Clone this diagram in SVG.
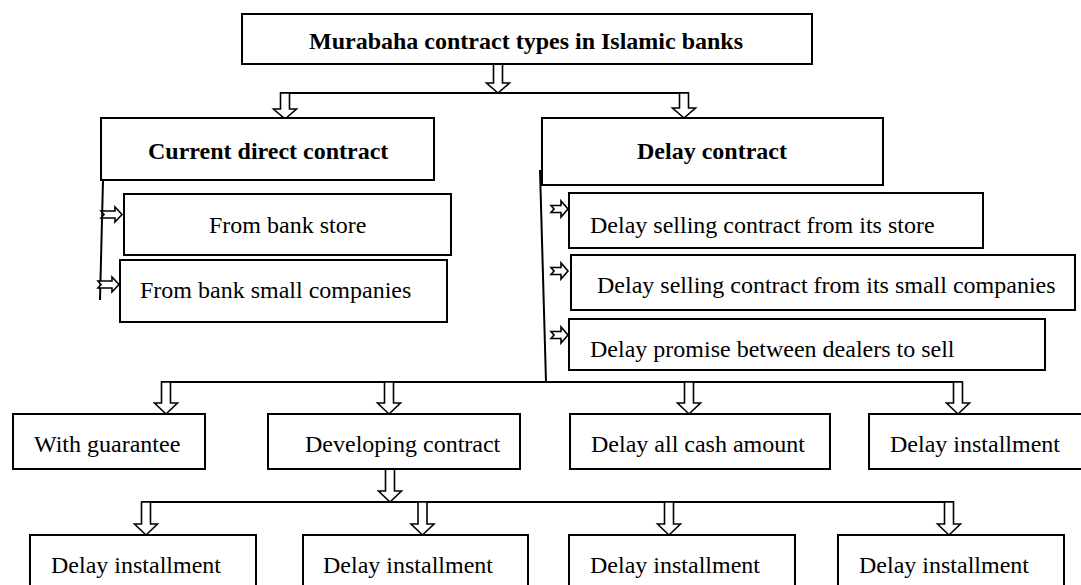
<svg xmlns="http://www.w3.org/2000/svg" width="1081" height="585" viewBox="0 0 1081 585">
<style>
.box{fill:#fff;stroke:#000;stroke-width:2}
.t{font-family:"Liberation Serif","Times New Roman",serif;font-size:24px;fill:#000}
.b{font-weight:bold}
.ln{fill:none;stroke:#000;stroke-width:2}
.ar{fill:#fff;stroke:#000;stroke-width:1.6;stroke-linejoin:miter}
</style>
<rect width="1081" height="585" fill="#fff"/>
<g id="connectors">
  <path class="ln" d="M280 93 H689"/>
  <path class="ln" d="M103 180 L100 300"/>
  <path class="ln" d="M540 170 L546 382"/>
  <path class="ln" d="M161 382 H962"/>
  <path class="ln" d="M142 502 H954"/>
  <path class="ar" d="M493.5 64 V83 H486.5 L498 93 L509.5 83 H502.5 V64 Z"/>
  <path class="ar" d="M280.5 93 V109 H273.5 L285 119 L296.5 109 H289.5 V93 Z"/>
  <path class="ar" d="M679.5 93 V108 H672.5 L684 118 L695.5 108 H688.5 V93 Z"/>
  <path class="ar" d="M101 211 H115 V207 L122 214.5 L115 222 V218 H101 L104 214.5 Z"/>
  <path class="ar" d="M98 281 H112 V277 L119 284.5 L112 292 V288 H98 L101 284.5 Z"/>
  <path class="ar" d="M551 205.5 H561 V201 L568 209 L561 217 V212.5 H551 L554 209 Z"/>
  <path class="ar" d="M551 267.5 H561 V263 L568 271 L561 279 V274.5 H551 L554 271 Z"/>
  <path class="ar" d="M551 331.5 H561 V327 L568 335 L561 343 V338.5 H551 L554 335 Z"/>
  <path class="ar" d="M161.5 382 V403 H154.5 L166 414 L177.5 403 H170.5 V382 Z"/>
  <path class="ar" d="M384.5 382 V403 H377.5 L389 414 L400.5 403 H393.5 V382 Z"/>
  <path class="ar" d="M684.5 382 V403 H677.5 L689 414 L700.5 403 H693.5 V382 Z"/>
  <path class="ar" d="M953.5 382 V403 H946.5 L958 414 L969.5 403 H962.5 V382 Z"/>
  <path class="ar" d="M385.5 469 V491 H378.5 L390 502 L401.5 491 H394.5 V469 Z"/>
  <path class="ar" d="M141.5 502 V524 H134.5 L146 535 L157.5 524 H150.5 V502 Z"/>
  <path class="ar" d="M418 502 V524 H411 L422.5 535 L434 524 H427 V502 Z"/>
  <path class="ar" d="M664.5 502 V524 H657.5 L669 535 L680.5 524 H673.5 V502 Z"/>
  <path class="ar" d="M944.5 502 V524 H937.5 L949 535 L960.5 524 H953.5 V502 Z"/>
</g>
<g id="n-title"><rect class="box" x="242" y="14" width="570" height="50"/><text class="t b" x="309" y="49">Murabaha contract types in Islamic banks</text></g>
<g id="n-current"><rect class="box" x="101" y="118" width="333" height="62"/><text class="t b" x="148" y="159">Current direct contract</text></g>
<g id="n-delay"><rect class="box" x="542" y="118" width="341" height="67"/><text class="t b" x="637" y="159">Delay contract</text></g>
<g id="n-store"><rect class="box" x="124" y="194" width="327" height="61"/><text class="t" x="209" y="233">From bank store</text></g>
<g id="n-small"><rect class="box" x="120" y="260" width="327" height="62"/><text class="t" x="140" y="298">From bank small companies</text></g>
<g id="n-dstore"><rect class="box" x="569" y="193" width="414" height="55"/><text class="t" x="590" y="233">Delay selling contract from its store</text></g>
<g id="n-dsmall"><rect class="box" x="571" y="255" width="504" height="55"/><text class="t" x="597" y="293">Delay selling contract from its small companies</text></g>
<g id="n-dpromise"><rect class="box" x="569" y="319" width="476" height="51"/><text class="t" x="590" y="357">Delay promise between dealers to sell</text></g>
<g id="n-guarantee"><rect class="box" x="13" y="414" width="192" height="55"/><text class="t" x="34" y="452">With guarantee</text></g>
<g id="n-developing"><rect class="box" x="268" y="414" width="252" height="55"/><text class="t" x="305" y="452">Developing contract</text></g>
<g id="n-cash"><rect class="box" x="570" y="414" width="260" height="55"/><text class="t" x="591" y="452">Delay all cash amount</text></g>
<g id="n-install"><rect class="box" x="869" y="414" width="216" height="55"/><text class="t" x="890" y="452">Delay installment</text></g>
<g id="n-i1"><rect class="box" x="30" y="535" width="226" height="60"/><text class="t" x="51" y="573">Delay installment</text></g>
<g id="n-i2"><rect class="box" x="303" y="535" width="225" height="60"/><text class="t" x="323" y="573">Delay installment</text></g>
<g id="n-i3"><rect class="box" x="569" y="535" width="226" height="60"/><text class="t" x="590" y="573">Delay installment</text></g>
<g id="n-i4"><rect class="box" x="838" y="535" width="226" height="60"/><text class="t" x="859" y="573">Delay installment</text></g>
</svg>
